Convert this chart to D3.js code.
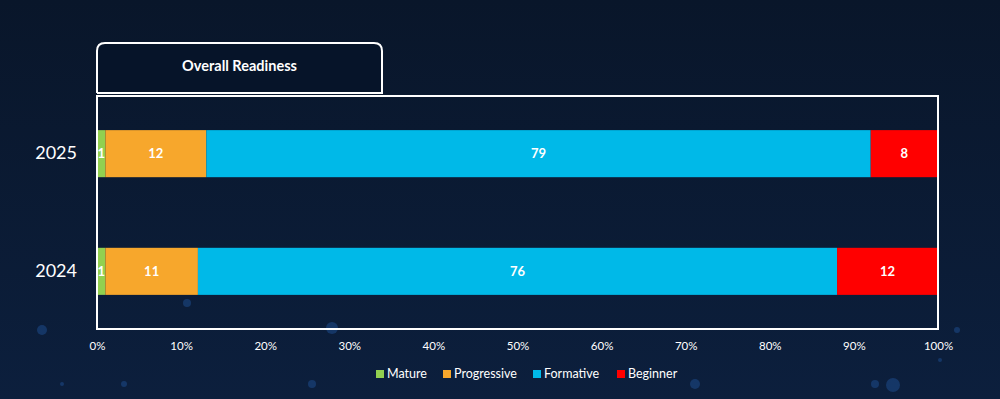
<!DOCTYPE html>
<html>
<head>
<meta charset="utf-8">
<script src="https://cdn.jsdelivr.net/npm/d3@7"></script>
<style>
  html, body { margin: 0; padding: 0; background: #0a1729; }
  svg { display: block; }
</style>
</head>
<body>
<svg id="chart" width="1000" height="399"></svg>
<script>
// Chart data
const years = ['2025', '2024'];
const levels = ['Mature', 'Progressive', 'Formative', 'Beginner'];
const mature = [1, 1];
const progressive = [12, 11];
const formative = [79, 76];
const beginner = [8, 12];
const xTicks = [0, 0.1, 0.2, 0.3, 0.4, 0.5, 0.6, 0.7, 0.8, 0.9, 1];
const colors = ['#92d050', '#f7a72c', '#00b9e8', '#ff0000'];

// Build rows for the stack
const rows = years.map((y, i) => ({
    year: y,
    Mature: mature[i],
    Progressive: progressive[i],
    Formative: formative[i],
    Beginner: beginner[i]
}));

const svg = d3.select('#chart');
const W = 1000, H = 399;
const plot = { left: 97, right: 938, top: 96, bottom: 329 };

// Background gradient
const defs = svg.append('defs');
const bg = defs.append('linearGradient')
    .attr('id', 'bg')
    .attr('x1', 0).attr('y1', 0).attr('x2', 0).attr('y2', 1);
bg.append('stop').attr('offset', '0%').attr('stop-color', '#09162a');
bg.append('stop').attr('offset', '100%').attr('stop-color', '#0c1f3d');
svg.append('rect').attr('width', W).attr('height', H).attr('fill', 'url(#bg)');

// Faint bokeh dots in the background
const bokeh = [[42, 330, 5], [187, 303, 4], [332, 328, 6], [695, 384, 5], [893, 385, 7],
    [875, 384, 4], [957, 330, 3], [124, 384, 3], [62, 384, 2], [312, 384, 4], [940, 360, 2]];
svg.append('g').selectAll('circle')
    .data(bokeh)
    .join('circle')
    .attr('cx', d => d[0]).attr('cy', d => d[1]).attr('r', d => d[2])
    .attr('fill', '#1d4a8a').attr('opacity', 0.55);

// Scales
const x = d3.scaleLinear().domain([0, 1]).range([plot.left, plot.right]);
const y = d3.scaleBand().domain(years).range([plot.top, plot.bottom]).paddingInner(0.6).paddingOuter(0.29);
const color = d3.scaleOrdinal().domain(levels).range(colors);

const series = d3.stack().keys(levels).offset(d3.stackOffsetExpand)(rows);

// Bars
const groups = svg.append('g').selectAll('g')
    .data(series)
    .join('g')
    .attr('fill', d => color(d.key));

groups.selectAll('rect')
    .data(d => d.map(v => Object.assign(v, { key: d.key })))
    .join('rect')
    .attr('x', d => x(d[0]))
    .attr('y', d => y(d.data.year))
    .attr('width', d => x(d[1]) - x(d[0]))
    .attr('height', y.bandwidth());

// Segment labels
groups.selectAll('text')
    .data(d => d)
    .join('text')
    .attr('x', d => (x(d[0]) + x(d[1])) / 2)
    .attr('y', d => y(d.data.year) + y.bandwidth() / 2)
    .attr('dy', '0.35em')
    .attr('text-anchor', 'middle')
    .attr('fill', '#ffffff')
    .attr('font-family', 'Lato, sans-serif')
    .attr('font-weight', 'bold')
    .attr('font-size', 13)
    .text(d => d.data[d.key]);

// Plot frame
svg.append('rect')
    .attr('x', plot.left).attr('y', plot.top)
    .attr('width', plot.right - plot.left).attr('height', plot.bottom - plot.top)
    .attr('fill', 'none').attr('stroke', '#ffffff').attr('stroke-width', 2);

// Title tab with rounded top corners
const tab = { x0: 97, x1: 382, y0: 43, y1: 93, r: 8 };
svg.append('path')
    .attr('d', `M${tab.x0},${tab.y1} V${tab.y0 + tab.r} Q${tab.x0},${tab.y0} ${tab.x0 + tab.r},${tab.y0}` +
        ` H${tab.x1 - tab.r} Q${tab.x1},${tab.y0} ${tab.x1},${tab.y0 + tab.r} V${tab.y1} H${tab.x0}`)
    .attr('fill', '#061429')
    .attr('stroke', '#ffffff')
    .attr('stroke-width', 2);
svg.append('text')
    .attr('x', (tab.x0 + tab.x1) / 2)
    .attr('y', 71)
    .attr('text-anchor', 'middle')
    .attr('fill', '#ffffff')
    .attr('font-family', 'Lato, sans-serif')
    .attr('font-weight', 'bold')
    .attr('font-size', 14.5)
    .text('Overall Readiness');

// Y axis labels
const yAxis = svg.append('g')
    .attr('transform', `translate(${plot.left - 20},0)`)
    .call(d3.axisLeft(y).tickSize(0).tickPadding(0));
yAxis.select('.domain').remove();
yAxis.selectAll('text')
    .attr('fill', '#ffffff')
    .attr('font-family', 'Lato, sans-serif')
    .attr('font-size', 18);

// X axis labels
const xAxis = svg.append('g')
    .attr('transform', `translate(0,${plot.bottom})`)
    .call(d3.axisBottom(x).tickValues(xTicks).tickFormat(d3.format('.0%')).tickSize(0).tickPadding(13));
xAxis.select('.domain').remove();
xAxis.selectAll('text')
    .attr('fill', '#ffffff')
    .attr('font-family', 'Lato, sans-serif')
    .attr('font-size', 11.5);

// Legend
const legendX = [376, 443, 533, 617];
const legend = svg.append('g').selectAll('g')
    .data(levels)
    .join('g')
    .attr('transform', (d, i) => `translate(${legendX[i]},374)`);
legend.append('rect')
    .attr('x', 0).attr('y', -4).attr('width', 8).attr('height', 8)
    .attr('fill', d => color(d));
legend.append('text')
    .attr('x', 11)
    .attr('dy', '0.35em')
    .attr('fill', '#ffffff')
    .attr('font-family', 'Lato, sans-serif')
    .attr('font-size', 12.5)
    .text(d => d);
</script>
</body>
</html>
